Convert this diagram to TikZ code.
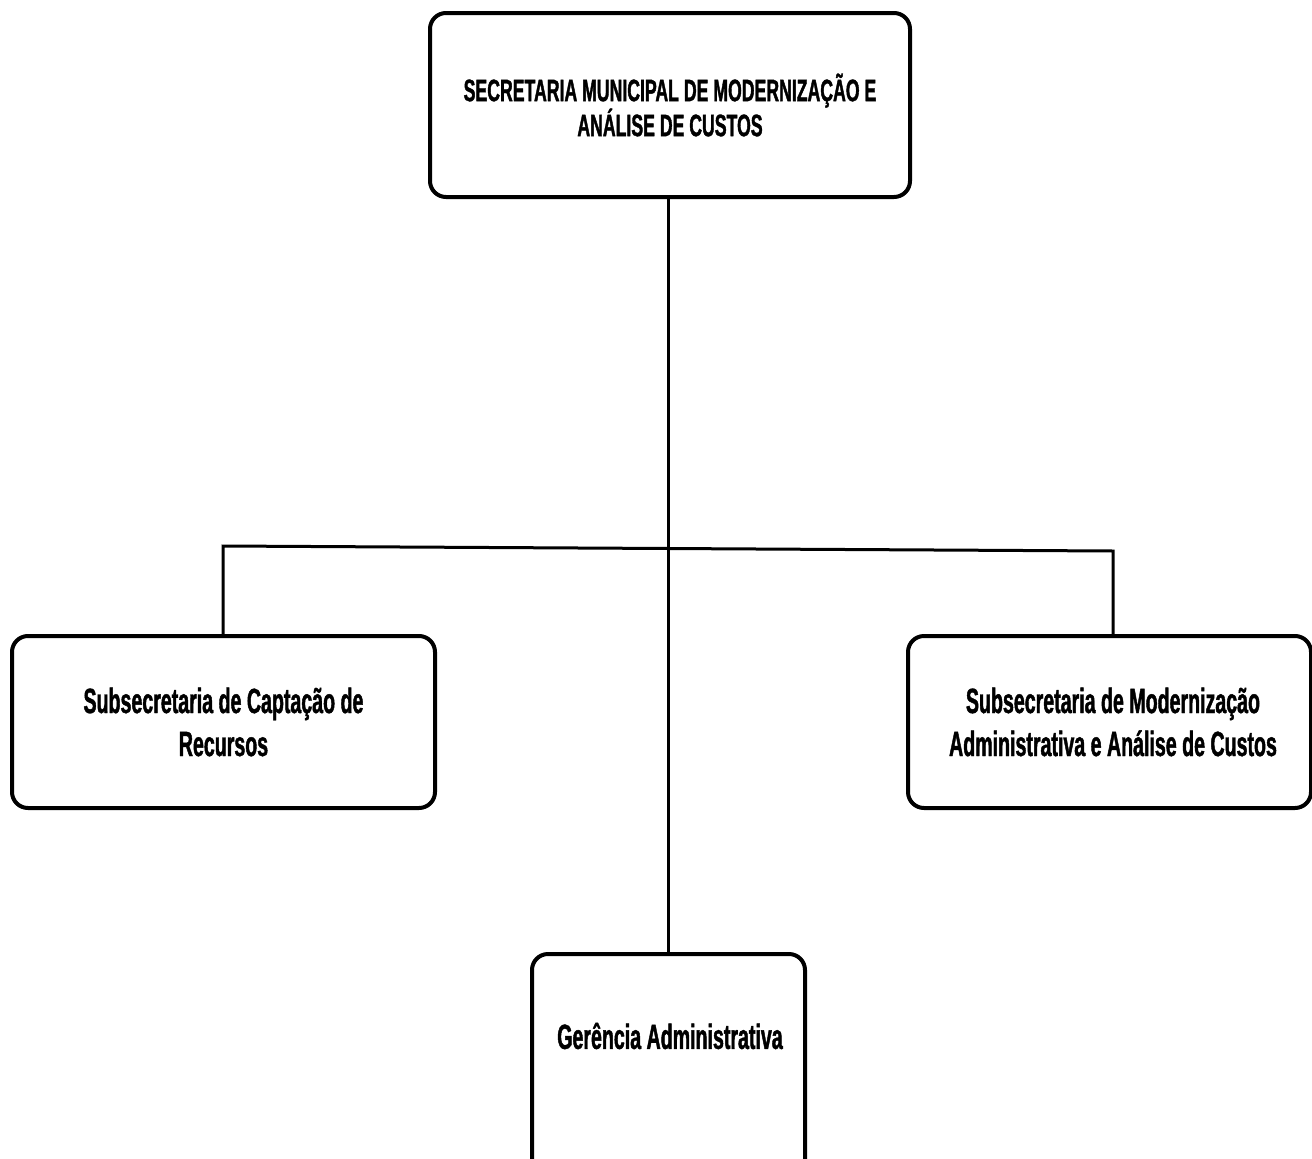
\documentclass[tikz,border=0pt]{standalone}
\usepackage{fontspec}
\setmainfont{Liberation Sans}[FakeStretch=0.56]
\newfontfamily\chartfont{Liberation Sans Bold}[FakeStretch=0.56, FakeBold=1.2]
\newfontfamily\headfont{Liberation Sans Bold}[FakeStretch=0.57, FakeBold=1.2]
\begin{document}
\begin{tikzpicture}[x=1pt,y=-1pt,
  unit/.style={draw=black, line width=4pt, rounded corners=16pt, inner sep=0pt, align=center},
  link/.style={draw=black, line width=3pt},
  toptext/.style={font=\headfont\fontsize{31}{35}\selectfont},
  subtext/.style={font=\chartfont\fontsize{35}{43}\selectfont}]
\useasboundingbox (0,0) rectangle (1312,1159);

% secretariat
\node[unit, toptext, minimum width=480, minimum height=184] (sec) at (670,105)
  {SECRETARIA MUNICIPAL DE MODERNIZAÇÃO E\\ANÁLISE DE CUSTOS};

% subordinate units
\node[unit, subtext, minimum width=423, minimum height=172] (capt) at (223.5,722)
  {Subsecretaria de Captação de\\Recursos};
\node[unit, subtext, minimum width=403, minimum height=172] (mod) at (1109.5,722)
  {\hspace*{7pt}Subsecretaria de Modernização\\\hspace*{7pt}Administrativa e Análise de Custos};
\node[unit, minimum width=273, minimum height=240, anchor=north] (ger) at (668.5,952) {};
\node[subtext, inner sep=0pt] (gerlbl) at (670,1036) {Gerência Administrativa};

% connectors
\coordinate (busL) at (223,546);
\coordinate (busR) at (1113,551);
\draw[link] (sec.south -| ger.north) -- (ger.north);
\draw[link] (capt.north -| busL) -- (busL) -- (busR) -- ([xshift=3.5pt]mod.north);
\end{tikzpicture}
\end{document}
